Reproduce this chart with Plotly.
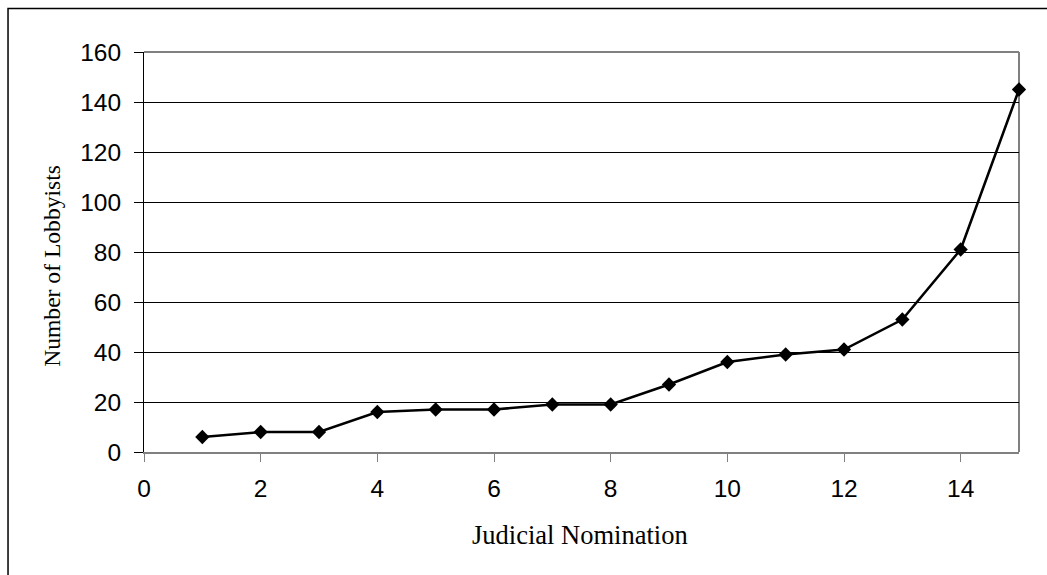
import plotly.graph_objects as go

# Lobbyist counts per judicial nomination, ordered by count
nomination = [1, 2, 3, 4, 5, 6, 7, 8, 9, 10, 11, 12, 13, 14, 15]
lobbyists = [6, 8, 8, 16, 17, 17, 19, 19, 27, 36, 39, 41, 53, 81, 145]

x_ticks = [0, 2, 4, 6, 8, 10, 12, 14]
y_ticks = [0, 20, 40, 60, 80, 100, 120, 140, 160]

x_title = "Judicial Nomination"
y_title = "Number of Lobbyists"

fig = go.Figure(
    go.Scatter(
        x=nomination,
        y=lobbyists,
        mode="lines+markers",
        line=dict(color="black", width=2.5),
        marker=dict(symbol="diamond", size=11, color="black"),
        cliponaxis=False,
        showlegend=False,
    )
)

tick_font = dict(family="Liberation Sans, Arial, sans-serif", size=24.5, color="black")
serif = "Liberation Serif, Times New Roman, serif"

fig.update_xaxes(
    range=[0, 15],
    tickvals=x_ticks,
    ticks="outside",
    ticklen=8,
    tickcolor="#808080",
    tickwidth=1,
    ticklabelstandoff=6,
    showgrid=False,
    zeroline=False,
    showline=True,
    linecolor="#808080",
    linewidth=2,
    tickfont=tick_font,
)
fig.update_yaxes(
    range=[0, 160],
    tickvals=y_ticks,
    ticks="outside",
    ticklen=9,
    tickcolor="black",
    tickwidth=1,
    ticklabelstandoff=8,
    showgrid=True,
    gridcolor="black",
    gridwidth=1,
    zeroline=False,
    showline=True,
    linecolor="black",
    linewidth=1,
    tickfont=tick_font,
)

fig.update_layout(
    width=1047,
    height=575,
    margin=dict(l=144, r=28, t=52, b=123),
    plot_bgcolor="white",
    paper_bgcolor="white",
    annotations=[
        dict(text=x_title, xref="paper", yref="paper", x=0.498, y=-0.208,
             xanchor="center", yanchor="middle", showarrow=False,
             font=dict(family=serif, size=26.5, color="black")),
        dict(text=y_title, xref="paper", yref="paper", x=-0.106, y=0.466,
             xanchor="center", yanchor="middle", showarrow=False, textangle=-90,
             font=dict(family=serif, size=23.6, color="black")),
    ],
    shapes=[
        # top and right edges of the plot area
        dict(type="line", xref="paper", yref="paper", x0=0, x1=1, y0=1, y1=1,
             line=dict(color="#808080", width=2), layer="below"),
        dict(type="line", xref="paper", yref="paper", x0=1, x1=1, y0=0, y1=1,
             line=dict(color="#808080", width=2), layer="below"),
        # outer chart frame
        dict(type="rect", xref="paper", yref="paper",
             x0=-0.1554, x1=1.04, y0=-0.33, y1=1.109,
             line=dict(color="black", width=1.5), layer="above"),
    ],
)

fig.write_html("out.html")
